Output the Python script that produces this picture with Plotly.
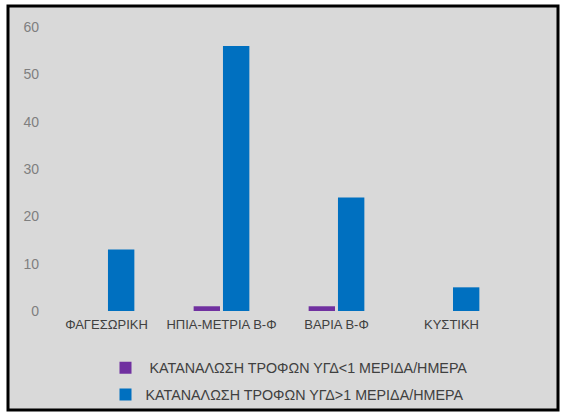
import plotly.graph_objects as go

categories = ["ΦΑΓΕΣΩΡΙΚΗ", "ΗΠΙΑ-ΜΕΤΡΙΑ Β-Φ", "ΒΑΡΙΑ Β-Φ", "ΚΥΣΤΙΚΗ"]
series_names = [" ΚΑΤΑΝΑΛΩΣΗ ΤΡΟΦΩΝ ΥΓΔ<1 ΜΕΡΙΔΑ/ΗΜΕΡΑ",
                "ΚΑΤΑΝΑΛΩΣΗ ΤΡΟΦΩΝ ΥΓΔ>1 ΜΕΡΙΔΑ/ΗΜΕΡΑ"]
low_values = [0, 1, 1, 0]
high_values = [13, 56, 24, 5]
y_ticks = [0, 10, 20, 30, 40, 50, 60]

W, H = 566, 419
L, R, T, B = 49, 57, 27, 108
pw, ph = W - L - R, H - T - B

def px_x(p):
    return (p - L) / pw

def px_y(p):
    return (H - B - p) / ph

font_family = "Liberation Sans, Arial, sans-serif"

fig = go.Figure()
fig.add_trace(go.Bar(x=categories, y=low_values, name=series_names[0],
                     legendgroup="a",
                     marker=dict(color="#7030A0", line=dict(width=0))))
fig.add_trace(go.Bar(x=categories, y=high_values, name=series_names[1],
                     legendgroup="b",
                     marker=dict(color="#0070C0", line=dict(width=0))))

fig.update_layout(
    width=W, height=H,
    margin=dict(l=L, r=R, t=T, b=B, pad=0, autoexpand=False),
    paper_bgcolor="white",
    plot_bgcolor="rgba(0,0,0,0)",
    barmode="group",
    bargap=0.49,
    bargroupgap=0.1,
    font=dict(family=font_family, size=12.5, color="#595959"),
    showlegend=True,
    legend=dict(orientation="v", x=px_x(289), xanchor="center",
                y=px_y(352), yanchor="top",
                bgcolor="rgba(0,0,0,0)",
                traceorder="grouped", tracegroupgap=5,
                font=dict(size=14.3, color="#404040"),
                itemwidth=30),
    xaxis=dict(showgrid=False, showline=False, zeroline=False,
               ticks="", ticklabelstandoff=4,
               tickfont=dict(size=13, color="#404040")),
    yaxis=dict(range=[0, 60], tickvals=y_ticks, showgrid=False,
               showline=False, zeroline=False, ticks="",
               ticklabelstandoff=9,
               tickfont=dict(size=14, color="#7f7f7f")),
    shapes=[dict(type="rect", xref="paper", yref="paper",
                 x0=px_x(8), x1=px_x(558), y0=px_y(410), y1=px_y(6),
                 fillcolor="#d9d9d9", line=dict(color="black", width=3),
                 layer="below")],
)

fig.write_html("out.html")
